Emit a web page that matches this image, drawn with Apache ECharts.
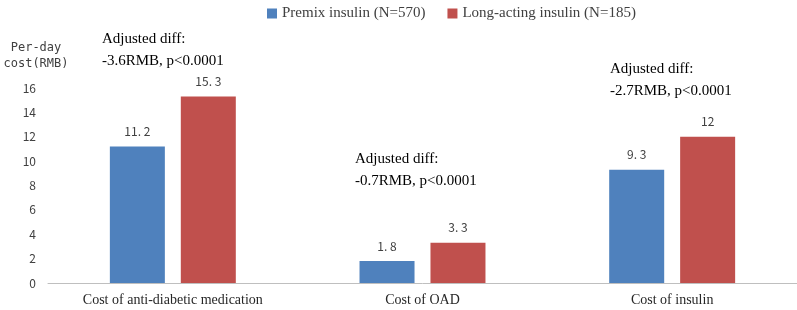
<!DOCTYPE html>
<html>
<head>
<meta charset="utf-8">
<script src="https://cdn.jsdelivr.net/npm/echarts@6/dist/echarts.min.js"></script>
<style>
  html, body { margin: 0; padding: 0; background: #fff; }
  #chart { width: 797px; height: 310px; }
</style>
</head>
<body>
<div id="chart"></div>
<script>
const categories = ['Cost of anti-diabetic medication', 'Cost of OAD', 'Cost of insulin'];
const premix = [11.2, 1.8, 9.3];
const longActing = [15.3, 3.3, 12];
const seriesNames = ['Premix insulin (N=570)', 'Long-acting insulin (N=185)'];
const diffNotes = ['-3.6RMB, p<0.0001', '-0.7RMB, p<0.0001', '-2.7RMB, p<0.0001'];

const serif = '"Liberation Serif", "DejaVu Serif", serif';
const cjk = '"Noto Sans CJK SC", sans-serif';
const mono = '"DejaVu Sans Mono", "Liberation Mono", monospace';

const chart = echarts.init(document.getElementById('chart'));

const labelStyle = {
  show: true,
  position: 'top',
  distance: 9,
  fontFamily: cjk,
  fontSize: 12,
  color: '#404040',
  formatter: (p) => String(p.value).replace('.', '. ')
};

// annotation positions (text only)
const notePos = [[102, 28], [355, 148], [610, 58]];

chart.setOption({
  animation: false,
  legend: {
    top: 1,
    left: 262,
    itemWidth: 10,
    itemHeight: 10,
    itemGap: 22,
    icon: 'rect',
    textStyle: { fontFamily: serif, fontSize: 15, color: '#404040' }
  },
  grid: { left: 48, right: 0, top: 88, bottom: 27 },
  xAxis: {
    type: 'category',
    data: categories,
    axisLine: { lineStyle: { color: '#bfbfbf' } },
    axisTick: { show: false },
    axisLabel: { fontFamily: serif, fontSize: 14, color: '#262626', margin: 10 }
  },
  yAxis: {
    type: 'value',
    min: 0,
    max: 16,
    interval: 2,
    splitLine: { show: false },
    axisLine: { show: false },
    axisTick: { show: false },
    axisLabel: { fontFamily: cjk, fontSize: 12, color: '#404040', margin: 12 }
  },
  series: [
    {
      name: seriesNames[0],
      type: 'bar',
      data: premix,
      barWidth: 55,
      barGap: '29%',
      itemStyle: { color: '#4f81bd' },
      label: labelStyle
    },
    {
      name: seriesNames[1],
      type: 'bar',
      data: longActing,
      barWidth: 55,
      itemStyle: { color: '#c0504d' },
      label: labelStyle
    }
  ],
  graphic: [
    {
      type: 'text',
      x: 36,
      y: 40,
      style: {
        text: 'Per-day\ncost(RMB)',
        fontFamily: mono,
        fontSize: 12,
        lineHeight: 16,
        fill: '#404040',
        align: 'center'
      }
    }
  ].concat(diffNotes.map((t, i) => ({
    type: 'text',
    left: notePos[i][0],
    top: notePos[i][1],
    style: {
      text: 'Adjusted diff:\n' + t,
      fontFamily: serif,
      fontSize: 15,
      lineHeight: 22,
      fill: '#000'
    }
  })))
});
</script>
</body>
</html>
